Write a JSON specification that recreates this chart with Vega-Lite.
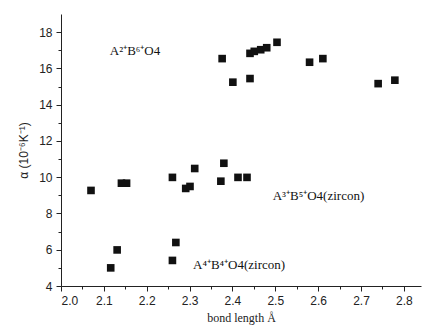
{
  "$schema": "https://vega.github.io/schema/vega-lite/v6.json",
  "width": 360,
  "height": 272,
  "autosize": {"type": "none"},
  "padding": {"left": 61, "top": 14, "right": 2, "bottom": 44},
  "background": "white",
  "config": {
    "view": {"stroke": null},
    "axis": {"grid": false, "ticks": true, "tickWidth": 1, "tickColor": "#222", "domainColor": "#222", "labelColor": "#222", "labelFont": "Liberation Sans", "labelFontSize": 12, "titleFontWeight": "normal", "titleColor": "#222"}
  },
  "datasets": {
    "pts": [
      {"x": 2.070, "y": 9.27},
      {"x": 2.116, "y": 5.00},
      {"x": 2.131, "y": 5.99},
      {"x": 2.141, "y": 9.67},
      {"x": 2.153, "y": 9.67},
      {"x": 2.260, "y": 9.99},
      {"x": 2.260, "y": 5.41},
      {"x": 2.268, "y": 6.40},
      {"x": 2.291, "y": 9.38},
      {"x": 2.301, "y": 9.49},
      {"x": 2.312, "y": 10.48},
      {"x": 2.373, "y": 9.78},
      {"x": 2.380, "y": 10.77},
      {"x": 2.413, "y": 9.99},
      {"x": 2.434, "y": 9.99},
      {"x": 2.376, "y": 16.54},
      {"x": 2.401, "y": 15.24},
      {"x": 2.441, "y": 15.44},
      {"x": 2.441, "y": 16.83},
      {"x": 2.451, "y": 16.94},
      {"x": 2.466, "y": 17.03},
      {"x": 2.480, "y": 17.14},
      {"x": 2.504, "y": 17.44},
      {"x": 2.580, "y": 16.34},
      {"x": 2.611, "y": 16.54},
      {"x": 2.740, "y": 15.16},
      {"x": 2.779, "y": 15.35}
    ],
    "labels": [
      {"x": 2.114, "y": 16.95, "label": "A²⁺B⁶⁺O4"},
      {"x": 2.494, "y": 8.95, "label": "A³⁺B⁵⁺O4(zircon)"},
      {"x": 2.308, "y": 5.15, "label": "A⁴⁺B⁴⁺O4(zircon)"}
    ]
  },
  "layer": [
    {
      "data": {"name": "pts"},
      "mark": {"type": "square", "size": 58, "filled": true, "color": "#111", "opacity": 1},
      "encoding": {
        "x": {"field": "x", "type": "quantitative", "scale": {"domain": [2.0, 2.84], "nice": false, "zero": false},
          "axis": {"title": "bond length Å", "titleFont": "Liberation Serif", "titleFontSize": 12, "titlePadding": 6,
            "values": [2.0, 2.05, 2.1, 2.15, 2.2, 2.25, 2.3, 2.35, 2.4, 2.45, 2.5, 2.55, 2.6, 2.65, 2.7, 2.75, 2.8],
            "tickCount": 100,
            "labelExpr": "round(datum.value*20) % 2 === 0 ? format(datum.value, '.1f') : ''",
            "labelOverlap": false,
            "tickSize": {"condition": {"test": "round(datum.value*20) % 2 === 0", "value": 5}, "value": 3},
            "labelPadding": 4}},
        "y": {"field": "y", "type": "quantitative", "scale": {"domain": [4, 19], "nice": false, "zero": false},
          "axis": {"title": "α (10⁻⁶K⁻¹)", "titleFont": "Liberation Sans", "titleFontSize": 12, "titlePadding": 8,
            "values": [4, 5, 6, 7, 8, 9, 10, 11, 12, 13, 14, 15, 16, 17, 18],
            "tickCount": 100,
            "labelExpr": "round(datum.value) % 2 === 0 ? format(datum.value, 'd') : ''",
            "labelOverlap": false,
            "tickSize": {"condition": {"test": "round(datum.value) % 2 === 0", "value": 5}, "value": 3},
            "labelPadding": 4}}
      }
    },
    {
      "data": {"name": "labels"},
      "mark": {"type": "text", "align": "left", "baseline": "middle", "font": "Liberation Serif", "fontSize": 13, "color": "#111"},
      "encoding": {
        "x": {"field": "x", "type": "quantitative"},
        "y": {"field": "y", "type": "quantitative"},
        "text": {"field": "label"}
      }
    }
  ]
}
